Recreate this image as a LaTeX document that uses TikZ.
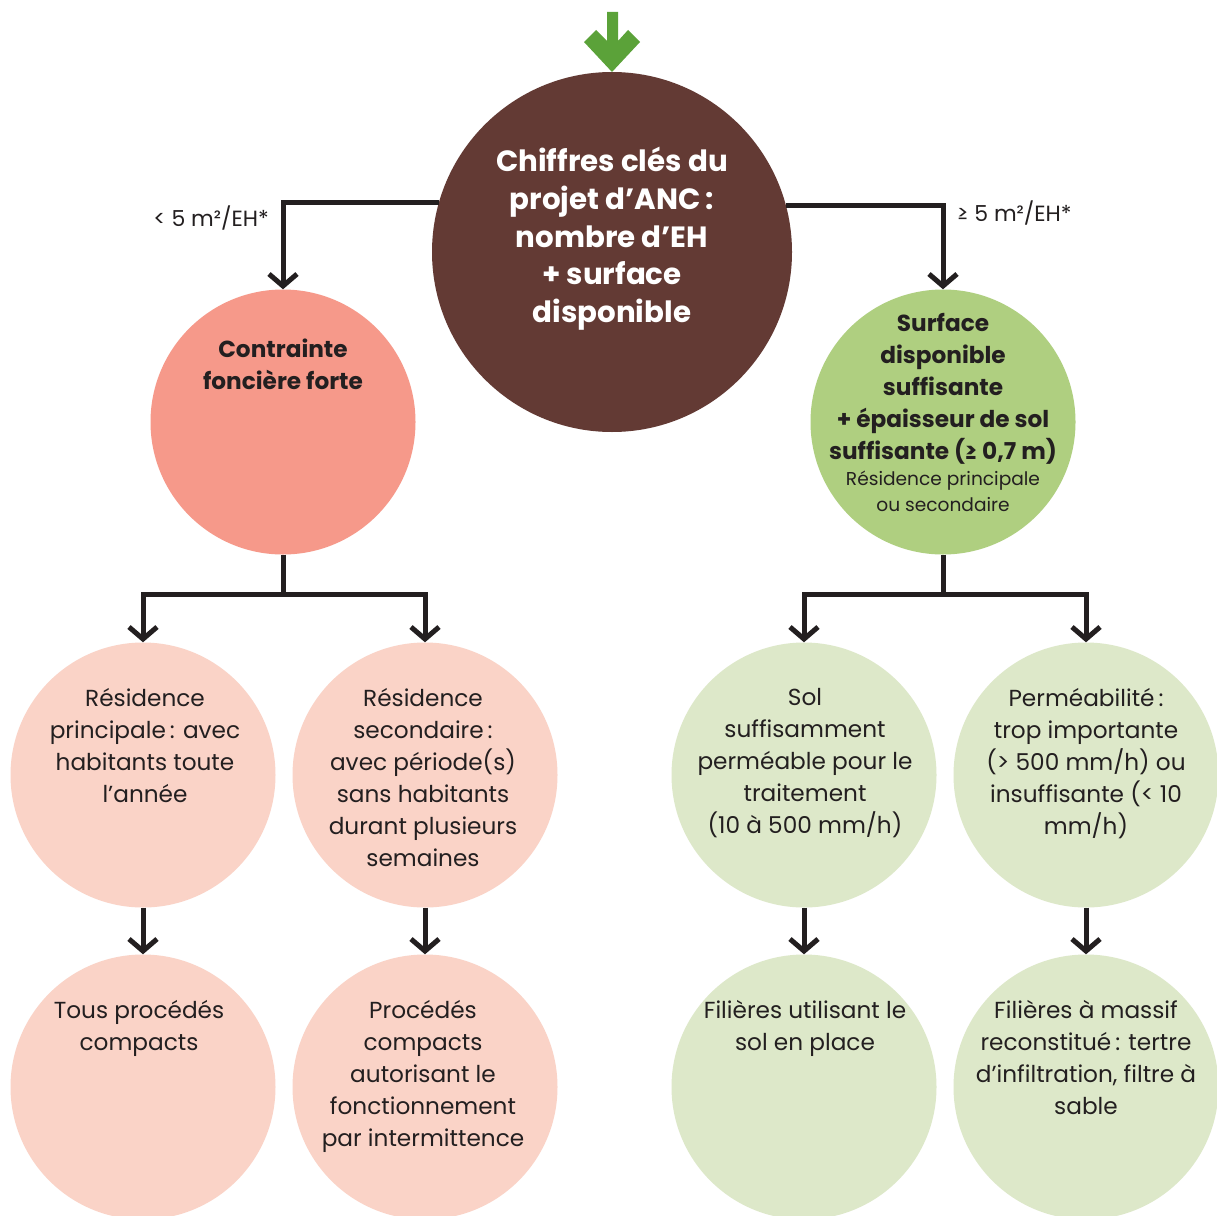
\documentclass[tikz,border=0pt]{standalone}
\usepackage{fontspec}
\setmainfont{Poppins}
\usetikzlibrary{arrows.meta}
\definecolor{brownc}{HTML}{633A34}
\definecolor{salmonc}{HTML}{F6998A}
\definecolor{pinkc}{HTML}{FAD3C7}
\definecolor{greenc}{HTML}{AFCF80}
\definecolor{lgreenc}{HTML}{DDE8C9}
\definecolor{arrowg}{HTML}{5BA239}
\definecolor{ink}{HTML}{231F20}
\newcommand{\nsp}{\hspace{0.17em}}
\begin{document}
\begin{tikzpicture}[x=1pt,y=-1pt,
  bub/.style={circle,inner sep=0pt,minimum size=265pt,draw=none},
  txt/.style={anchor=north,inner sep=0pt,align=center,text=ink,font=\fontsize{23.2}{32}\selectfont},
  boldtxt/.style={anchor=north,inner sep=0pt,align=center,text=ink,font=\bfseries\fontsize{23.2}{32}\selectfont},
  lbl/.style={inner sep=0pt,text=ink,font=\fontsize{22}{26}\selectfont},
  conn/.style={draw=ink,line width=5pt,-{Straight Barb[length=12pt,width=28pt]}},
  plain/.style={draw=ink,line width=5pt}]
\useasboundingbox (0,0) rectangle (1217,1215);
\fill[white] (0,0) rectangle (1217,1215);
% circles
\node[bub,minimum size=360pt,fill=brownc] (top) at (612,252) {};
\node[bub,fill=salmonc] (cl) at (283,422) {};
\node[bub,fill=greenc] (cr) at (943,422) {};
\node[bub,fill=pinkc] (a1) at (143,775) {};
\node[bub,fill=pinkc] (a2) at (425,775) {};
\node[bub,fill=lgreenc] (a3) at (804,775) {};
\node[bub,fill=lgreenc] (a4) at (1086,775) {};
\node[bub,fill=pinkc] (b1) at (143,1087) {};
\node[bub,fill=pinkc] (b2) at (425,1087) {};
\node[bub,fill=lgreenc] (b3) at (804,1087) {};
\node[bub,fill=lgreenc] (b4) at (1086,1087) {};
% green entry arrow
\fill[arrowg] (607,12) -- (618,12) -- (618,41) -- (628,30) -- (640,42) -- (612,72)
  -- (584,42) -- (596,30) -- (607,41) -- cycle;
% texts
\node[anchor=north,inner sep=0pt,align=center,text=white,font=\bfseries\fontsize{29.3}{37.7}\selectfont]
  (ttop) at (612,147) {Chiffres clés du\\projet d’ANC\nsp:\\nombre d’EH\\+ surface\\disponible};
\node[boldtxt] (tcl) at (283,339) {Contrainte\\foncière forte};
\node[boldtxt] (tcr) at (943,313) {Surface\\disponible\\suffisante\\+ épaisseur de sol\\suffisante (≥ 0,7 m)};
\node[txt,font=\fontsize{18.6}{26}\selectfont] (tcr2) at (943,471) {Résidence principale\\ou secondaire};
\node[txt] (ta1) at (145,688.5) {Résidence\\principale\nsp: avec\\habitants toute\\l’année};
\node[txt] (ta2) at (423,688.5) {Résidence\\secondaire\nsp:\\avec période(s)\\sans habitants\\durant plusieurs\\semaines};
\node[txt] (ta3) at (805,688.5) {Sol\\suffisamment\\perméable pour le\\traitement\\(10 à 500 mm/h)};
\node[txt] (ta4) at (1086,688.5) {Perméabilité\nsp:\\trop importante\\(> 500 mm/h) ou\\insuffisante (< 10\\mm/h)};
\node[txt] (tb1) at (139,1000.5) {Tous procédés\\compacts};
\node[txt] (tb2) at (423,1000.5) {Procédés\\compacts\\autorisant le\\fonctionnement\\par intermittence};
\node[txt] (tb3) at (805,1000.5) {Filières utilisant le\\sol en place};
\node[txt] (tb4) at (1086,1000.5) {Filières à massif\\reconstitué\nsp: tertre\\d’infiltration, filtre à\\sable};
% labels
\node[lbl,anchor=east] (l1) at (269,218) {< 5 m²/EH*};
\node[lbl,anchor=west] (l2) at (957,213) {≥ 5 m²/EH*};
% connectors
\draw[conn] (top.164.5) -| (cl.north);
\draw[conn] (top.15.5) -| (cr.north);
\draw[plain] (cl.south) -- ++(0,40) coordinate (jl);
\draw[conn] (jl) -| (a1.north);
\draw[conn] (jl) -| (a2.north);
\draw[plain] (cr.south) -- ++(0,40) coordinate (jr);
\draw[conn] (jr) -| (a3.north);
\draw[conn] (jr) -| (a4.north);
\draw[conn] (a1.south) -- (b1.north);
\draw[conn] (a2.south) -- (b2.north);
\draw[conn] (a3.south) -- (b3.north);
\draw[conn] (a4.south) -- (b4.north);
\end{tikzpicture}
\end{document}
